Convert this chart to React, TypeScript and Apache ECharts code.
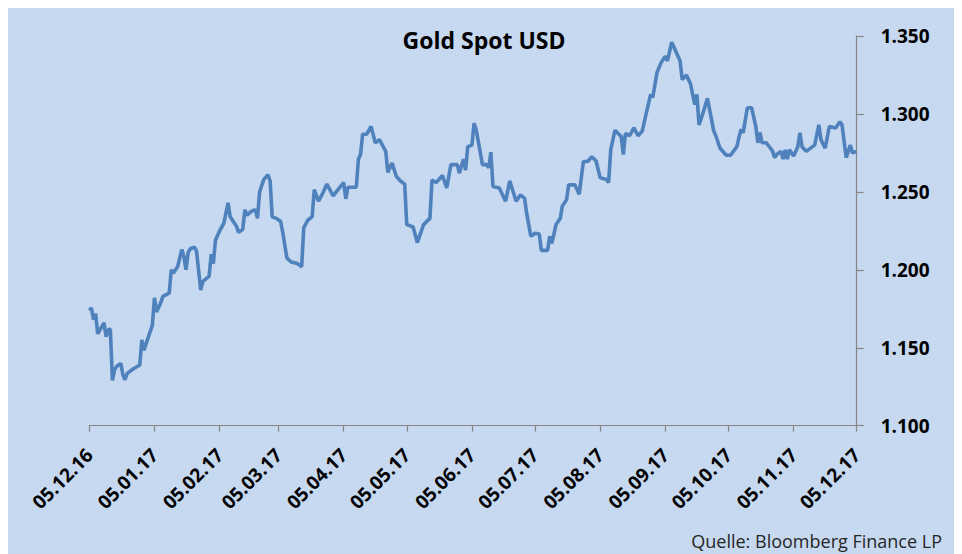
import React, { useEffect, useRef } from "react";
import * as echarts from "echarts";

// Daily Gold Spot prices (USD per ounce)
const dates: string[] = [
  "2016-12-05", "2016-12-06", "2016-12-07", "2016-12-08", "2016-12-09", "2016-12-12", "2016-12-13", "2016-12-14",
  "2016-12-15", "2016-12-16", "2016-12-17", "2016-12-18", "2016-12-20", "2016-12-21", "2016-12-22", "2016-12-23",
  "2016-12-26", "2016-12-29", "2016-12-30", "2016-12-31",
  "2017-01-02", "2017-01-04", "2017-01-05", "2017-01-06", "2017-01-08", "2017-01-09", "2017-01-12", "2017-01-13",
  "2017-01-14", "2017-01-16", "2017-01-18", "2017-01-19", "2017-01-20", "2017-01-21", "2017-01-22", "2017-01-24",
  "2017-01-25", "2017-01-27", "2017-01-28", "2017-01-31",
  "2017-02-01", "2017-02-02", "2017-02-03", "2017-02-05", "2017-02-07", "2017-02-09", "2017-02-10", "2017-02-13",
  "2017-02-14", "2017-02-16", "2017-02-17", "2017-02-18", "2017-02-20", "2017-02-22", "2017-02-23", "2017-02-24",
  "2017-02-26", "2017-02-28",
  "2017-03-01", "2017-03-02", "2017-03-04", "2017-03-06", "2017-03-07", "2017-03-09", "2017-03-11", "2017-03-14",
  "2017-03-16", "2017-03-17", "2017-03-19", "2017-03-21", "2017-03-22", "2017-03-24", "2017-03-26", "2017-03-28",
  "2017-03-31",
  "2017-04-02", "2017-04-05", "2017-04-06", "2017-04-07", "2017-04-09", "2017-04-11", "2017-04-12", "2017-04-13",
  "2017-04-14", "2017-04-16", "2017-04-18", "2017-04-20", "2017-04-22", "2017-04-25", "2017-04-26", "2017-04-28",
  "2017-04-30",
  "2017-05-02", "2017-05-04", "2017-05-05", "2017-05-08", "2017-05-10", "2017-05-13", "2017-05-16", "2017-05-17",
  "2017-05-19", "2017-05-22", "2017-05-24", "2017-05-26", "2017-05-29", "2017-05-30",
  "2017-06-01", "2017-06-02", "2017-06-03", "2017-06-05", "2017-06-06", "2017-06-07", "2017-06-10", "2017-06-12",
  "2017-06-13", "2017-06-14", "2017-06-15", "2017-06-18", "2017-06-21", "2017-06-23", "2017-06-26", "2017-06-28",
  "2017-06-30",
  "2017-07-01", "2017-07-03", "2017-07-05", "2017-07-07", "2017-07-08", "2017-07-11", "2017-07-12", "2017-07-13",
  "2017-07-15", "2017-07-17", "2017-07-18", "2017-07-20", "2017-07-21", "2017-07-24", "2017-07-26", "2017-07-28",
  "2017-07-30",
  "2017-08-01", "2017-08-03", "2017-08-05", "2017-08-08", "2017-08-09", "2017-08-10", "2017-08-12", "2017-08-15",
  "2017-08-16", "2017-08-17", "2017-08-19", "2017-08-21", "2017-08-23", "2017-08-25", "2017-08-27", "2017-08-29",
  "2017-08-30",
  "2017-09-01", "2017-09-03", "2017-09-05", "2017-09-06", "2017-09-08", "2017-09-10", "2017-09-12", "2017-09-13",
  "2017-09-15", "2017-09-17", "2017-09-19", "2017-09-20", "2017-09-21", "2017-09-23", "2017-09-25", "2017-09-28",
  "2017-09-29",
  "2017-10-01", "2017-10-04", "2017-10-06", "2017-10-09", "2017-10-10", "2017-10-11", "2017-10-12", "2017-10-14",
  "2017-10-16", "2017-10-18", "2017-10-19", "2017-10-20", "2017-10-21", "2017-10-23", "2017-10-25", "2017-10-26",
  "2017-10-27", "2017-10-28", "2017-10-30", "2017-10-31",
  "2017-11-01", "2017-11-02", "2017-11-03", "2017-11-05", "2017-11-07", "2017-11-08", "2017-11-09", "2017-11-11",
  "2017-11-14", "2017-11-15", "2017-11-17", "2017-11-18", "2017-11-20", "2017-11-22", "2017-11-25", "2017-11-27",
  "2017-11-28", "2017-11-30",
  "2017-12-02", "2017-12-03", "2017-12-05",
];

const goldPrices: number[] = [
  1174, 1175.5, 1168, 1172, 1159, 1166, 1157, 1161.5,
  1162, 1129, 1136, 1138, 1140, 1132.5, 1129.5, 1133.5,
  1136.5, 1139, 1155, 1148.5,
  1156.5, 1164.5, 1182, 1173, 1179, 1183, 1185, 1200,
  1198, 1202, 1213, 1208.5, 1200, 1211, 1213.5, 1214.5,
  1212, 1187, 1192.5, 1196,
  1210, 1204, 1219, 1225, 1230, 1243, 1234, 1228,
  1224, 1226, 1238.5, 1235, 1237.5, 1238.5, 1233, 1250,
  1258, 1261,
  1257, 1234, 1233, 1231, 1224, 1207.5, 1205, 1204,
  1202, 1227, 1232, 1234, 1251.5, 1244, 1249, 1255,
  1247.5,
  1251, 1256, 1245.5, 1253, 1253, 1253, 1271, 1274,
  1287, 1287, 1292, 1281.5, 1283.5, 1276, 1262.5, 1268.5,
  1260,
  1257, 1255, 1229, 1227.5, 1217.5, 1229, 1233, 1257.5,
  1256, 1260.5, 1252.5, 1267.5, 1267.5, 1262,
  1271, 1264, 1279, 1280, 1294, 1290, 1267.5, 1267.5,
  1265.5, 1275.5, 1253.5, 1252.5, 1244, 1257, 1244, 1248,
  1246,
  1236.5, 1221.5, 1223.5, 1223, 1212.5, 1212.5, 1221.5, 1217,
  1229, 1233, 1241, 1245, 1254.5, 1254.5, 1248.5, 1269.5,
  1269.5,
  1272.5, 1270, 1259, 1258, 1256, 1277, 1289.5, 1285.5,
  1274, 1287.5, 1286, 1291, 1286, 1289, 1301, 1312.5,
  1310.5,
  1326.5, 1333, 1337, 1334, 1346, 1340, 1334, 1322,
  1325, 1319, 1306, 1312.5, 1293, 1301, 1310, 1289,
  1286,
  1278, 1273.5, 1273.5, 1279, 1285, 1290, 1288, 1304,
  1304, 1292, 1281.5, 1288, 1281.5, 1281.5, 1278, 1276,
  1272, 1274, 1276, 1271,
  1277, 1271, 1277, 1273, 1279, 1288, 1279, 1276,
  1279, 1280, 1293, 1283.5, 1278, 1292, 1291, 1295,
  1293, 1272,
  1280, 1275, 1276,
];

// x-axis tick dates (the 5th of each month)
const tickDates: string[] = [
  "2016-12-05", "2017-01-05", "2017-02-05", "2017-03-05", "2017-04-05", "2017-05-05", "2017-06-05",
  "2017-07-05", "2017-08-05", "2017-09-05", "2017-10-05", "2017-11-05", "2017-12-05",
];

// y-axis range
const yMin = 1100;
const yMax = 1350;
const yStep = 50;

const titleText = "Gold Spot USD";
const sourceText = "Quelle: Bloomberg Finance LP";

function toTs(s: string): number {
  const [y, m, d] = s.split("-").map(Number);
  return new Date(y, m - 1, d).getTime();
}

function pad(n: number): string {
  return n < 10 ? "0" + n : String(n);
}

export default function App() {
  const ref = useRef<HTMLDivElement>(null);

  useEffect(() => {
    if (!ref.current) return;
    const chart = echarts.init(ref.current, undefined, { renderer: "svg" });
    const tickTs = tickDates.map(toTs);
    const seriesData = dates.map((d, i) => [toTs(d), goldPrices[i]]);
    const font = "Open Sans";

    chart.setOption({
      animation: false,
      backgroundColor: "#C6D9F1",
      grid: { left: 81.3, right: 99.3, top: 28, bottom: 128.3, containLabel: false },
      xAxis: {
        type: "value",
        min: tickTs[0],
        max: tickTs[tickTs.length - 1],
        scale: true,
        axisLine: { show: true, lineStyle: { color: "#868686", width: 1.2 } },
        axisTick: { show: true, customValues: tickTs, length: 6, lineStyle: { color: "#868686", width: 1.2 } },
        axisLabel: {
          customValues: tickTs,
          rotate: 45,
          margin: 26,
          color: "#000",
          fontFamily: font,
          fontWeight: "bold",
          fontSize: 19,
          formatter: (v: number) => {
            const dt = new Date(v);
            return pad(dt.getDate()) + "." + pad(dt.getMonth() + 1) + "." + pad(dt.getFullYear() % 100);
          },
        },
        splitLine: { show: false },
      },
      yAxis: {
        type: "value",
        position: "right",
        min: yMin,
        max: yMax,
        interval: yStep,
        axisLine: { show: true, lineStyle: { color: "#868686", width: 1.2 } },
        axisTick: { show: true, length: 7, lineStyle: { color: "#868686", width: 1.2 } },
        axisLabel: {
          margin: 24,
          color: "#000",
          fontFamily: font,
          fontWeight: "bold",
          fontSize: 19,
          formatter: (v: number) => (v / 1000).toFixed(3),
        },
        splitLine: { show: false },
      },
      graphic: [
        {
          type: "text",
          x: 476,
          y: 32,
          style: {
            text: titleText,
            fill: "#000",
            font: `bold 23px "${font}"`,
            textAlign: "center",
            textVerticalAlign: "middle",
          },
        },
        {
          type: "text",
          x: 934,
          y: 533,
          style: {
            text: sourceText,
            fill: "#262626",
            font: `18px "${font}"`,
            textAlign: "right",
            textVerticalAlign: "middle",
          },
        },
      ],
      series: [
        {
          type: "line",
          data: seriesData,
          showSymbol: false,
          smooth: false,
          lineStyle: { color: "#4F81BD", width: 3.6 },
          itemStyle: { color: "#4F81BD" },
        },
      ],
    });

    return () => chart.dispose();
  }, []);

  return <div ref={ref} style={{ width: 948, height: 546 }} />;
}
